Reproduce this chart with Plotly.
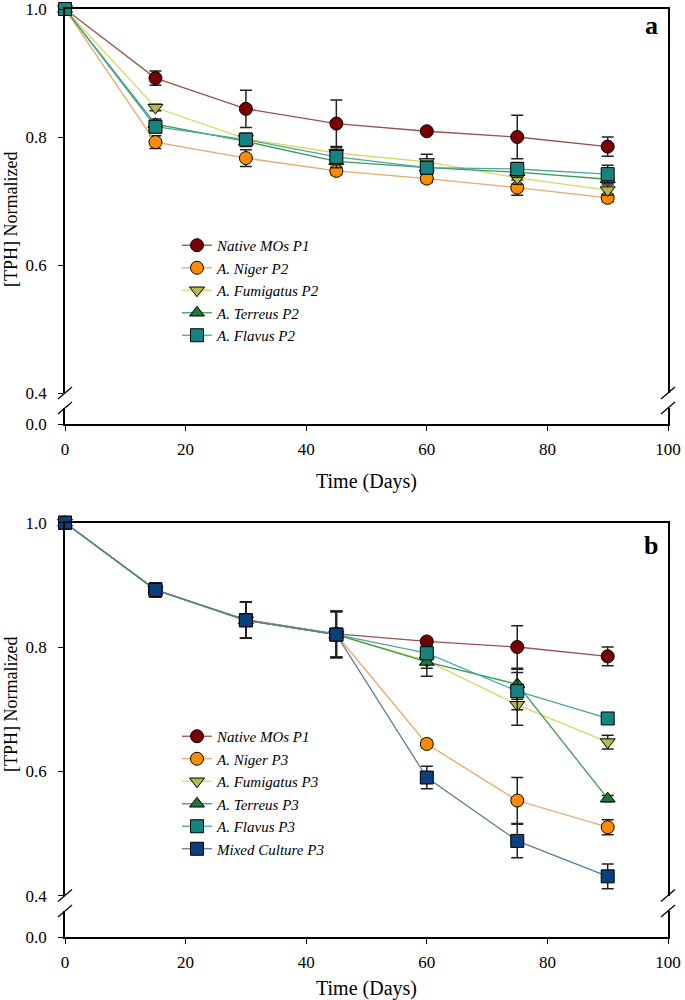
import plotly.graph_objects as go

# ---------------- data ----------------
days = [0, 15, 30, 45, 60, 75, 90]

# Panel a
native_p1 = [1.0, 0.892, 0.844, 0.821, 0.809, 0.800, 0.785]
native_p1_err = [0, 0.011, 0.029, 0.037, 0.003, 0.034, 0.015]
niger_p2 = [1.0, 0.792, 0.767, 0.747, 0.735, 0.721, 0.705]
niger_p2_err = [0, 0.010, 0.013, 0.006, 0.006, 0.012, 0.006]
fumigatus_p2 = [1.0, 0.846, 0.797, 0.775, 0.761, 0.736, 0.717]
fumigatus_p2_err = [0, 0.005, 0.006, 0.010, 0.012, 0.010, 0.008]
terreus_p2 = [1.0, 0.820, 0.793, 0.762, 0.752, 0.745, 0.734]
terreus_p2_err = [0, 0.008, 0.008, 0.010, 0.010, 0.008, 0.006]
flavus_p2 = [1.0, 0.816, 0.796, 0.769, 0.752, 0.750, 0.742]
flavus_p2_err = [0, 0.009, 0.010, 0.012, 0.008, 0.010, 0.014]

# Panel b
niger_p3 = [1.0, 0.892, 0.843, 0.820, 0.644, 0.553, 0.510]
niger_p3_err = [0, 0.011, 0.029, 0.037, 0.006, 0.037, 0.012]
fumigatus_p3 = [1.0, 0.892, 0.843, 0.820, 0.778, 0.707, 0.647]
fumigatus_p3_err = [0, 0.011, 0.029, 0.037, 0.025, 0.033, 0.011]
terreus_p3 = [1.0, 0.892, 0.843, 0.820, 0.776, 0.740, 0.556]
terreus_p3_err = [0, 0.011, 0.029, 0.037, 0.010, 0.024, 0.005]
flavus_p3 = [1.0, 0.892, 0.843, 0.820, 0.790, 0.729, 0.685]
flavus_p3_err = [0, 0.011, 0.029, 0.037, 0.008, 0.030, 0.005]
mixed_p3 = [1.0, 0.892, 0.843, 0.820, 0.590, 0.488, 0.431]
mixed_p3_err = [0, 0.011, 0.029, 0.037, 0.018, 0.027, 0.020]

y_ticks_upper = [0.4, 0.6, 0.8, 1.0]
x_ticks = [0, 20, 40, 60, 80, 100]

# ---------------- layout geometry ----------------
FONT = "Liberation Serif"
W, H = 685, 1000
ML, MR, MT, MB = 65, 17, 9, 63
PW, PH = W - ML - MR, H - MT - MB


def py(pix):                 # page pixel row -> paper y
    return 1 - (pix - MT) / PH


def px(pix):                 # page pixel column -> paper x
    return (pix - ML) / PW


styles = {
    "native": dict(fill="#7a0000", line="#9a5050", symbol="circle"),
    "niger": dict(fill="#ff8c00", line="#e8a868", symbol="circle"),
    "fumigatus": dict(fill="#b4b84c", line="#d8d860", symbol="triangle-down"),
    "terreus": dict(fill="#1b7a35", line="#3c9a55", symbol="triangle-up"),
    "flavus": dict(fill="#16837f", line="#4aa5a5", symbol="square"),
    "mixed": dict(fill="#0b3f7e", line="#5a7f98", symbol="square"),
}

fig = go.Figure()


def add(name, y, err, key, xa, ya, legend):
    s = styles[key]
    fig.add_trace(go.Scatter(
        x=days, y=y, name=name, mode="lines+markers",
        xaxis=xa, yaxis=ya, legend=legend, cliponaxis=False,
        line=dict(color=s["line"], width=1.3),
        marker=dict(symbol=s["symbol"], size=13, color=s["fill"],
                    line=dict(color="black", width=1)),
        error_y=dict(type="data", array=err, visible=True,
                     color="#222222", thickness=1.5, width=6),
    ))


add("Native MOs P1", native_p1, native_p1_err, "native", "x", "y", "legend")
add("A. Niger P2", niger_p2, niger_p2_err, "niger", "x", "y", "legend")
add("A. Fumigatus P2", fumigatus_p2, fumigatus_p2_err, "fumigatus", "x", "y", "legend")
add("A. Terreus P2", terreus_p2, terreus_p2_err, "terreus", "x", "y", "legend")
add("A. Flavus P2", flavus_p2, flavus_p2_err, "flavus", "x", "y", "legend")

add("Native MOs P1", native_p1, native_p1_err, "native", "x3", "y3", "legend2")
add("A. Niger P3", niger_p3, niger_p3_err, "niger", "x3", "y3", "legend2")
add("A. Fumigatus P3", fumigatus_p3, fumigatus_p3_err, "fumigatus", "x3", "y3", "legend2")
add("A. Terreus P3", terreus_p3, terreus_p3_err, "terreus", "x3", "y3", "legend2")
add("A. Flavus P3", flavus_p3, flavus_p3_err, "flavus", "x3", "y3", "legend2")
add("Mixed Culture P3", mixed_p3, mixed_p3_err, "mixed", "x3", "y3", "legend2")

# empty traces so that the broken-axis strips and frame axes get drawn
for xa, ya in (("x", "y2"), ("x2", "y"), ("x3", "y4"), ("x4", "y3")):
    fig.add_trace(go.Scatter(x=[None], y=[None], xaxis=xa, yaxis=ya,
                             showlegend=False, hoverinfo="skip", mode="markers"))

tickfont = dict(family=FONT, size=17, color="black")
axis_common = dict(showgrid=False, zeroline=False, showline=True, automargin=False,
                   linecolor="black", linewidth=1.5, tickfont=tickfont,
                   ticks="outside", ticklen=5, tickcolor="black", tickwidth=1.2,
                   ticklabeloverflow="allow")

# domains (page pixel rows)
a_up = [py(393), py(9)]
a_lo = [py(424), py(408)]
b_up = [py(895.6), py(522.7)]
b_lo = [py(937), py(911)]

title_font = dict(family=FONT, size=20, color="black")


def xbottom(standoff):
    return dict(axis_common, range=[0, 100], tickvals=x_ticks, domain=[0, 1],
                ticklabelstandoff=4,
                title=dict(text="Time (Days)", font=title_font, standoff=standoff))


xtop = dict(showgrid=False, zeroline=False, showline=True, linecolor="black",
            automargin=False, linewidth=1.5, ticks="", showticklabels=False,
            side="top", domain=[0, 1])
yupper = dict(axis_common, range=[0.4, 1.0], tickvals=y_ticks_upper, tickformat=".1f",
              mirror=True, ticklabelstandoff=8)
ylower = dict(axis_common, range=[0, 0.05], tickvals=[0.0], tickformat=".1f", mirror=True,
              ticklabelstandoff=8)

legend_font = dict(family=FONT, size=15, style="italic", color="black")

fig.update_layout(
    width=W, height=H,
    margin=dict(l=ML, r=MR, t=MT, b=MB, autoexpand=False),
    paper_bgcolor="white", plot_bgcolor="rgba(0,0,0,0)",
    font=dict(family=FONT, color="black"),
    xaxis=dict(xbottom(16), anchor="y2"),
    xaxis2=dict(xtop, anchor="y", matches="x", overlaying="x"),
    yaxis=dict(yupper, domain=a_up, anchor="x"),
    yaxis2=dict(ylower, domain=a_lo, anchor="x"),
    xaxis3=dict(xbottom(15), anchor="y4"),
    xaxis4=dict(xtop, anchor="y3", matches="x3", overlaying="x3"),
    yaxis3=dict(yupper, domain=b_up, anchor="x3"),
    yaxis4=dict(ylower, domain=b_lo, anchor="x3"),
    legend=dict(x=px(177), y=py(229), xanchor="left", yanchor="top",
                bgcolor="rgba(0,0,0,0)", font=legend_font),
    legend2=dict(x=px(177), y=py(720), xanchor="left", yanchor="top",
                 bgcolor="rgba(0,0,0,0)", font=legend_font),
    showlegend=True,
)

# y-axis titles and panel letters
for cy in (220, 705):
    fig.add_annotation(text="[TPH] Normalized", xref="paper", yref="paper",
                       x=px(11), y=py(cy), xanchor="center", yanchor="middle",
                       textangle=-90, showarrow=False,
                       font=dict(family=FONT, size=18, color="black"))
for letter, cy in (("a", 26), ("b", 545)):
    fig.add_annotation(text="<b>%s</b>" % letter, xref="paper", yref="paper",
                       x=px(651), y=py(cy), xanchor="center", yanchor="middle",
                       showarrow=False,
                       font=dict(family=FONT, size=26, color="black"))


# axis break marks
def slash(cx, cy):
    fig.add_shape(type="line", xref="paper", yref="paper",
                  x0=px(cx - 7), y0=py(cy + 6), x1=px(cx + 7), y1=py(cy - 6),
                  line=dict(color="black", width=1.3))


for xpix in (65, 668):
    for (t, b) in ((393, 408), (895.6, 911)):
        slash(xpix, t)
        slash(xpix, b)

fig.write_html(
    "out.html",
    config={"displayModeBar": False},
    post_script="document.body.style.margin='0';document.body.style.overflow='hidden';",
)
